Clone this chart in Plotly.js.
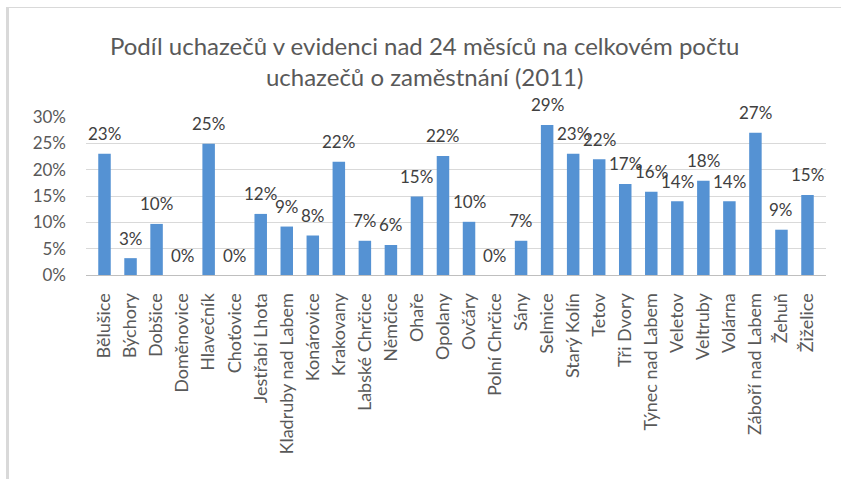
<!DOCTYPE html>
<html>
<head>
<meta charset="utf-8">
<script src="https://cdn.plot.ly/plotly-3.0.1.min.js"></script>
<style>
  html, body { margin: 0; padding: 0; background: #fff; overflow: hidden; }
  #frame { position: absolute; left: 6px; top: 7px; width: 835px; height: 472px;
           border-left: 3px solid #d9d9d9; border-top: 1px solid #d9d9d9; box-sizing: border-box; }
  #chart { position: absolute; left: 0; top: 0; width: 841px; height: 479px; }
</style>
</head>
<body>
<div id="frame"></div>
<div id="chart"></div>
<script>
const categories = ["Bělušice","Býchory","Dobšice","Doměnovice","Hlavečník","Choťovice","Jestřabí Lhota","Kladruby nad Labem","Konárovice","Krakovany","Labské Chrčice","Němčice","Ohaře","Opolany","Ovčáry","Polní Chrčice","Sány","Selmice","Starý Kolín","Tetov","Tři Dvory","Týnec nad Labem","Veletov","Veltruby","Volárna","Záboří nad Labem","Žehuň","Žiželice"];
const values = [23.0,3.2,9.7,0,24.9,0,11.6,9.2,7.5,21.5,6.5,5.7,14.9,22.6,10.1,0,6.5,28.5,23.0,22.0,17.3,15.8,14.0,17.9,14.0,27.0,8.6,15.2];
const labels = ["23%","3%","10%","0%","25%","0%","12%","9%","8%","22%","7%","6%","15%","22%","10%","0%","7%","29%","23%","22%","17%","16%","14%","18%","14%","27%","9%","15%"];
const yTicks = [0,5,10,15,20,25,30];
const yTickText = ["0%","5%","10%","15%","20%","25%","30%"];
const titleText = "Podíl uchazečů v evidenci nad 24 měsíců na celkovém počtu<br>uchazečů o zaměstnání (2011)";

const FONT = "Lato, 'Open Sans', sans-serif";

const trace = {
  type: "bar",
  x: categories,
  y: values,
  marker: { color: "#5592d3", line: { width: 0 } },
  hoverinfo: "none"
};

const annotations = categories.map((c, i) => ({
  x: c, y: values[i], xref: "x", yref: "y",
  text: labels[i], showarrow: false,
  yanchor: "middle", yshift: 20,
  font: { family: FONT, size: 17, color: "#404040" }
}));

const layout = {
  width: 841, height: 479,
  margin: { l: 86, r: 15, t: 117, b: 204 },
  paper_bgcolor: "rgba(0,0,0,0)",
  plot_bgcolor: "rgba(0,0,0,0)",
  showlegend: false,
  bargap: 0.52,
  title: {
    text: titleText,
    x: 0.505, xanchor: "center",
    xref: "container", yref: "container",
    y: 1 - 55/479, yanchor: "middle",
    font: { family: FONT, size: 24, color: "#595959" }
  },
  xaxis: {
    type: "category",
    tickangle: -90,
    tickfont: { family: FONT, size: 18, color: "#595959" },
    ticks: "",
    ticklabelstandoff: 10,
    showgrid: false,
    showline: true, linecolor: "#bfbfbf", linewidth: 1,
    fixedrange: true
  },
  yaxis: {
    range: [0, 30],
    tickvals: yTicks,
    ticktext: yTickText,
    tickfont: { family: FONT, size: 17, color: "#595959" },
    ticks: "",
    ticklabelstandoff: 19,
    showgrid: true, gridcolor: "#d9d9d9", gridwidth: 1,
    zeroline: false,
    showline: false,
    fixedrange: true
  },
  annotations: annotations
};

Plotly.newPlot("chart", [trace], layout, { displayModeBar: false, staticPlot: true });
</script>
</body>
</html>
